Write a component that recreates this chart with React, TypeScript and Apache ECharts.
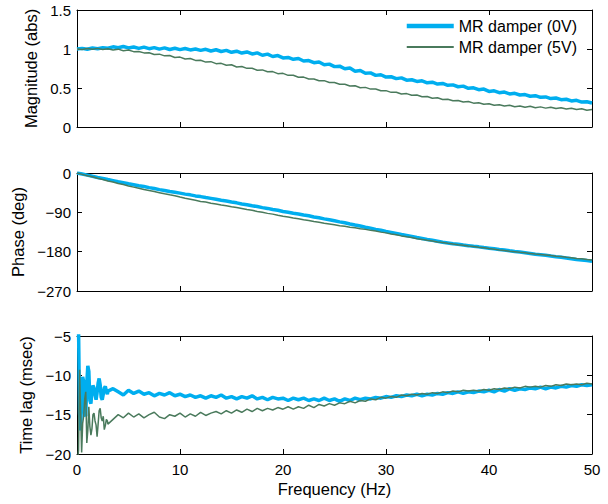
import React, { useEffect, useRef } from 'react';
import * as echarts from 'echarts';

// Frequency grid (Hz) for magnitude and phase
const FREQ = [
  0, 0.5, 1, 1.5, 2, 2.5, 3, 3.5, 4, 4.5, 5, 5.5, 6, 6.5, 7, 7.5, 8, 8.5, 9, 9.5,
  10, 10.5, 11, 11.5, 12, 12.5, 13, 13.5, 14, 14.5, 15, 15.5, 16, 16.5, 17, 17.5, 18, 18.5, 19, 19.5,
  20, 20.5, 21, 21.5, 22, 22.5, 23, 23.5, 24, 24.5, 25, 25.5, 26, 26.5, 27, 27.5, 28, 28.5, 29, 29.5,
  30, 30.5, 31, 31.5, 32, 32.5, 33, 33.5, 34, 34.5, 35, 35.5, 36, 36.5, 37, 37.5, 38, 38.5, 39, 39.5,
  40, 40.5, 41, 41.5, 42, 42.5, 43, 43.5, 44, 44.5, 45, 45.5, 46, 46.5, 47, 47.5, 48, 48.5, 49, 49.5, 50,
];

const MAG_0V = [
  1.0, 1.008, 0.996, 1.012, 1.004, 1.016, 1.01, 1.028, 1.016, 1.032, 1.014, 1.026, 1.008, 1.024, 1.004, 1.018, 0.998, 1.014, 0.994, 1.01,
  0.992, 1.006, 0.988, 1.0, 0.982, 0.996, 0.974, 0.99, 0.968, 0.982, 0.958, 0.972, 0.948, 0.962, 0.936, 0.95, 0.92, 0.934, 0.904, 0.916,
  0.886, 0.892, 0.868, 0.878, 0.846, 0.852, 0.824, 0.834, 0.798, 0.806, 0.774, 0.78, 0.746, 0.756, 0.716, 0.724, 0.688, 0.694, 0.662, 0.67,
  0.64, 0.644, 0.62, 0.63, 0.6, 0.606, 0.584, 0.592, 0.566, 0.574, 0.55, 0.558, 0.534, 0.54, 0.516, 0.524, 0.496, 0.502, 0.478, 0.486,
  0.456, 0.464, 0.44, 0.448, 0.424, 0.432, 0.41, 0.416, 0.394, 0.402, 0.38, 0.386, 0.364, 0.372, 0.35, 0.356, 0.334, 0.342, 0.32, 0.324, 0.308,
];

const MAG_5V = [
  1.0, 0.994, 1.006, 0.996, 1.008, 0.994, 1.004, 0.988, 0.998, 0.978, 0.988, 0.966, 0.968, 0.95, 0.952, 0.93, 0.934, 0.912, 0.916, 0.892,
  0.896, 0.872, 0.878, 0.854, 0.856, 0.832, 0.838, 0.812, 0.816, 0.792, 0.798, 0.77, 0.776, 0.752, 0.754, 0.728, 0.732, 0.708, 0.71, 0.684,
  0.688, 0.662, 0.664, 0.638, 0.64, 0.616, 0.616, 0.594, 0.594, 0.57, 0.57, 0.548, 0.548, 0.526, 0.528, 0.504, 0.508, 0.486, 0.488, 0.464,
  0.466, 0.444, 0.446, 0.424, 0.428, 0.406, 0.41, 0.388, 0.392, 0.368, 0.374, 0.352, 0.356, 0.336, 0.34, 0.32, 0.326, 0.306, 0.312, 0.292,
  0.298, 0.278, 0.286, 0.268, 0.278, 0.26, 0.27, 0.254, 0.266, 0.248, 0.258, 0.242, 0.254, 0.236, 0.246, 0.23, 0.24, 0.224, 0.234, 0.216, 0.224,
];

const PHASE_0V = [
  0, -2.4, -4.9, -7.6, -10.1, -12.3, -15.0, -17.4, -20.0, -22.1, -24.6, -26.9, -29.2, -31.0, -33.5, -35.4, -38.0, -39.9, -42.2, -44.1,
  -46.0, -48.3, -50.0, -52.4, -54.0, -56.2, -58.1, -60.0, -62.2, -64.0, -66.4, -68.3, -71.0, -72.7, -75.1, -76.8, -79.2, -81.0, -83.5, -85.2,
  -88.0, -89.7, -92.1, -93.9, -96.2, -98.0, -100.6, -102.4, -105.0, -107.1, -109.3, -111.8, -114.0, -116.6, -119.0, -121.3, -124.0, -126.2, -129.0, -131.1,
  -134.0, -136.0, -138.4, -140.9, -143.0, -145.1, -147.6, -149.7, -152.0, -154.0, -156.1, -158.3, -160.0, -161.8, -163.1, -164.9, -166.2, -167.8, -169.0, -170.6,
  -172.0, -173.4, -175.0, -176.3, -178.0, -179.6, -181.0, -182.4, -184.0, -185.7, -187.0, -188.3, -190.0, -191.6, -193.0, -194.4, -196.0, -197.8, -199.0, -200.3, -202.0,
];

const PHASE_5V = [
  0, -3.1, -6.2, -8.8, -12.0, -14.7, -18.1, -20.6, -24.0, -26.4, -29.8, -32.3, -35.0, -37.7, -40.1, -42.4, -45.0, -47.6, -50.0, -52.1,
  -55.0, -57.8, -60.2, -62.6, -65.0, -66.6, -69.1, -70.8, -73.0, -74.7, -77.1, -78.9, -81.0, -83.4, -85.2, -87.9, -90.0, -92.4, -94.1, -96.6,
  -99.0, -100.8, -103.1, -104.7, -107.0, -108.6, -111.2, -112.9, -115.0, -116.6, -118.4, -120.5, -122.0, -124.1, -125.4, -127.6, -129.0, -131.2, -132.9, -135.3,
  -137.0, -139.4, -141.3, -143.9, -146.0, -147.8, -150.2, -151.9, -154.0, -155.6, -157.7, -159.1, -161.0, -162.3, -164.1, -165.4, -167.0, -168.2, -170.1, -171.3,
  -173.0, -174.2, -176.1, -177.3, -179.0, -180.1, -181.6, -182.7, -184.0, -185.4, -186.3, -187.6, -189.0, -190.4, -191.3, -192.8, -194.0, -195.5, -196.4, -198.0, -199.0,
];

// Frequency grid (Hz) for time lag: dense at low frequency
const FREQ_LAG = [
  0.05, 0.15, 0.25, 0.35, 0.45, 0.55, 0.65, 0.75, 0.85, 0.95, 1.05, 1.15, 1.25, 1.35, 1.45, 1.55, 1.65, 1.75, 1.85, 1.95,
  2.05, 2.15, 2.25, 2.35, 2.45, 2.55, 2.65, 2.75, 2.85, 2.95,
  3, 3.5, 4, 4.5, 5, 5.5, 6, 6.5, 7, 7.5, 8, 8.5, 9, 9.5,
  10, 10.5, 11, 11.5, 12, 12.5, 13, 13.5, 14, 14.5, 15, 15.5, 16, 16.5, 17, 17.5, 18, 18.5, 19, 19.5,
  20, 20.5, 21, 21.5, 22, 22.5, 23, 23.5, 24, 24.5, 25, 25.5, 26, 26.5, 27, 27.5, 28, 28.5, 29, 29.5,
  30, 30.5, 31, 31.5, 32, 32.5, 33, 33.5, 34, 34.5, 35, 35.5, 36, 36.5, 37, 37.5, 38, 38.5, 39, 39.5,
  40, 40.5, 41, 41.5, 42, 42.5, 43, 43.5, 44, 44.5, 45, 45.5, 46, 46.5, 47, 47.5, 48, 48.5, 49, 49.5, 50,
];

const LAG_0V = [
  -3, -4, -14.8, -17.0, -13.0, -10.2, -10.8, -14.9, -15.2, -11.0, -8.8, -9.5, -13.2, -13.6, -12.0, -11.3, -11.6, -12.5, -13.1, -12.2,
  -11.0, -10.4, -11.2, -12.8, -13.1, -12.4, -11.6, -11.4, -12.0, -12.4,
  -12.0, -11.7, -12.1, -12.5, -11.9, -12.3, -12.0, -12.4, -12.2, -12.6, -12.3, -12.5, -12.2, -12.6,
  -12.4, -12.7, -12.5, -12.8, -12.6, -12.9, -12.6, -12.8, -12.5, -12.9, -12.7, -13.0, -12.7, -12.9, -12.6, -13.0, -12.8, -13.1, -12.8, -13.0,
  -12.9, -13.2, -12.9, -13.1, -12.9, -13.2, -13.0, -13.2, -12.9, -13.2, -13.0, -13.3, -13.0, -13.2, -12.9, -13.1, -12.9, -13.0, -12.8, -12.9,
  -12.7, -12.8, -12.6, -12.7, -12.5, -12.6, -12.4, -12.6, -12.4, -12.5, -12.3, -12.4, -12.2, -12.3, -12.1, -12.3, -12.1, -12.2, -12.0, -12.1,
  -11.9, -12.1, -11.8, -12.0, -11.7, -11.9, -11.7, -11.8, -11.6, -11.7, -11.5, -11.7, -11.5, -11.6, -11.4, -11.5, -11.3, -11.4, -11.2, -11.3, -11.2,
];

const LAG_5V = [
  -21, -19.5, -9.3, -14.5, -19.8, -16.1, -15.2, -13.0, -12.1, -18.6, -17.0, -14.0, -16.5, -17.6, -16.8, -15.0, -14.8, -15.8, -16.3, -17.8,
  -16.2, -14.5, -14.2, -15.4, -15.8, -15.2, -16.9, -16.4, -15.6, -15.8,
  -16.2, -15.6, -15.0, -15.4, -14.8, -15.3, -14.9, -15.4, -15.0, -14.7, -15.3, -15.5, -15.0, -15.2,
  -14.8, -15.3, -14.9, -15.2, -14.7, -15.1, -14.8, -14.6, -14.9, -14.5, -14.8, -14.4, -14.7, -14.3, -14.6, -14.2, -14.5, -14.2, -14.4, -14.1,
  -14.3, -14.0, -14.3, -14.0, -14.2, -13.8, -14.1, -13.7, -13.9, -13.6, -13.8, -13.5, -13.6, -13.3, -13.5, -13.2, -13.3, -13.0, -13.1, -12.8,
  -12.9, -12.7, -12.8, -12.5, -12.6, -12.4, -12.5, -12.3, -12.4, -12.2, -12.3, -12.1, -12.2, -12.0, -12.1, -11.9, -12.0, -11.9, -12.0, -11.8,
  -11.9, -11.7, -11.8, -11.6, -11.7, -11.5, -11.6, -11.4, -11.5, -11.4, -11.5, -11.3, -11.4, -11.2, -11.3, -11.1, -11.2, -11.1, -11.2, -11.0, -11.1,
];

const SERIES_NAMES = ['MR damper (0V)', 'MR damper (5V)'];
const X_TICKS = { min: 0, max: 50, interval: 10 };
const Y_LABELS = ['Magnitude (abs)', 'Phase (deg)', 'Time lag (msec)'];
const X_LABEL = 'Frequency (Hz)';

const CYAN = '#00AEEF';
const GREEN = '#4A7A5C';
const FONT = 'Liberation Sans, Arial, sans-serif';

const pairs = (xs: number[], ys: number[]) => xs.map((x, i) => [x, ys[i]]);
const minus = (v: number) => String(v).replace('-', '\u2212');

export default function App() {
  const ref = useRef<HTMLDivElement>(null);

  useEffect(() => {
    if (!ref.current) return;
    const chart = echarts.init(ref.current, null, { renderer: 'svg' });

    const grids = [
      { left: 77, right: 16, top: 10, height: 117 },
      { left: 77, right: 16, top: 173, height: 118 },
      { left: 77, right: 16, top: 336, height: 118 },
    ];
    const yRanges = [
      { min: 0, max: 1.5, interval: 0.5 },
      { min: -270, max: 0, interval: 90 },
      { min: -20, max: -5, interval: 5 },
    ];
    const nameGaps = [32, 47, 38];

    const axisLine = { show: true, onZero: false, lineStyle: { color: '#000', width: 1 } };
    const tick = { show: true, inside: true, length: 5, lineStyle: { color: '#000', width: 1 } };
    const labelStyle = { color: '#000', fontSize: 15, fontFamily: FONT };
    const nameStyle = { color: '#000', fontSize: 16.5, fontFamily: FONT };

    const xAxes: any[] = [];
    const yAxes: any[] = [];
    grids.forEach((_, g) => {
      xAxes.push({
        type: 'value', gridIndex: g, position: 'bottom', ...X_TICKS,
        axisLine, axisTick: tick, splitLine: { show: false },
        axisLabel: { show: g === 2, margin: 8, ...labelStyle, formatter: minus },
        name: g === 2 ? X_LABEL : '', nameLocation: 'middle', nameGap: 26,
        nameTextStyle: nameStyle,
      });
      xAxes.push({
        type: 'value', gridIndex: g, position: 'top', ...X_TICKS,
        axisLine, axisTick: tick, splitLine: { show: false }, axisLabel: { show: false },
      });
      yAxes.push({
        type: 'value', gridIndex: g, position: 'left', ...yRanges[g],
        axisLine, axisTick: tick, splitLine: { show: false },
        axisLabel: { margin: 6, ...labelStyle, formatter: minus },
        name: Y_LABELS[g], nameLocation: 'middle', nameRotate: 90, nameGap: nameGaps[g],
        nameTextStyle: nameStyle,
      });
      yAxes.push({
        type: 'value', gridIndex: g, position: 'right', ...yRanges[g],
        axisLine, axisTick: tick, splitLine: { show: false }, axisLabel: { show: false },
      });
    });

    const data = [
      [pairs(FREQ, MAG_0V), pairs(FREQ, MAG_5V)],
      [pairs(FREQ, PHASE_0V), pairs(FREQ, PHASE_5V)],
      [pairs(FREQ_LAG, LAG_0V), pairs(FREQ_LAG, LAG_5V)],
    ];

    const series: any[] = [];
    data.forEach((pair, g) => {
      pair.forEach((d, s) => {
        series.push({
          type: 'line',
          name: SERIES_NAMES[s],
          xAxisIndex: g * 2,
          yAxisIndex: g * 2,
          data: d,
          showSymbol: false,
          symbol: 'none',
          clip: true,
          lineStyle: { color: s === 0 ? CYAN : GREEN, width: s === 0 ? 3.5 : 1.5 },
          itemStyle: { color: s === 0 ? CYAN : GREEN },
          emphasis: { disabled: true },
        });
      });
    });

    chart.setOption({
      animation: false,
      backgroundColor: '#fff',
      grid: grids,
      xAxis: xAxes,
      yAxis: yAxes,
      legend: {
        data: [
          { name: SERIES_NAMES[0], lineStyle: { width: 4.5, color: CYAN } },
          { name: SERIES_NAMES[1], lineStyle: { width: 2, color: GREEN } },
        ],
        orient: 'vertical',
        right: 31,
        top: 18,
        padding: 0,
        itemWidth: 47,
        itemHeight: 14,
        itemGap: 5,
        itemStyle: { opacity: 0 },
        textStyle: { color: '#000', fontSize: 16, lineHeight: 16, fontFamily: FONT },
      },
      series,
    });

    return () => chart.dispose();
  }, []);

  return (
    <div
      ref={ref}
      style={{ position: 'fixed', left: 0, top: 0, width: 608, height: 504 }}
    />
  );
}
